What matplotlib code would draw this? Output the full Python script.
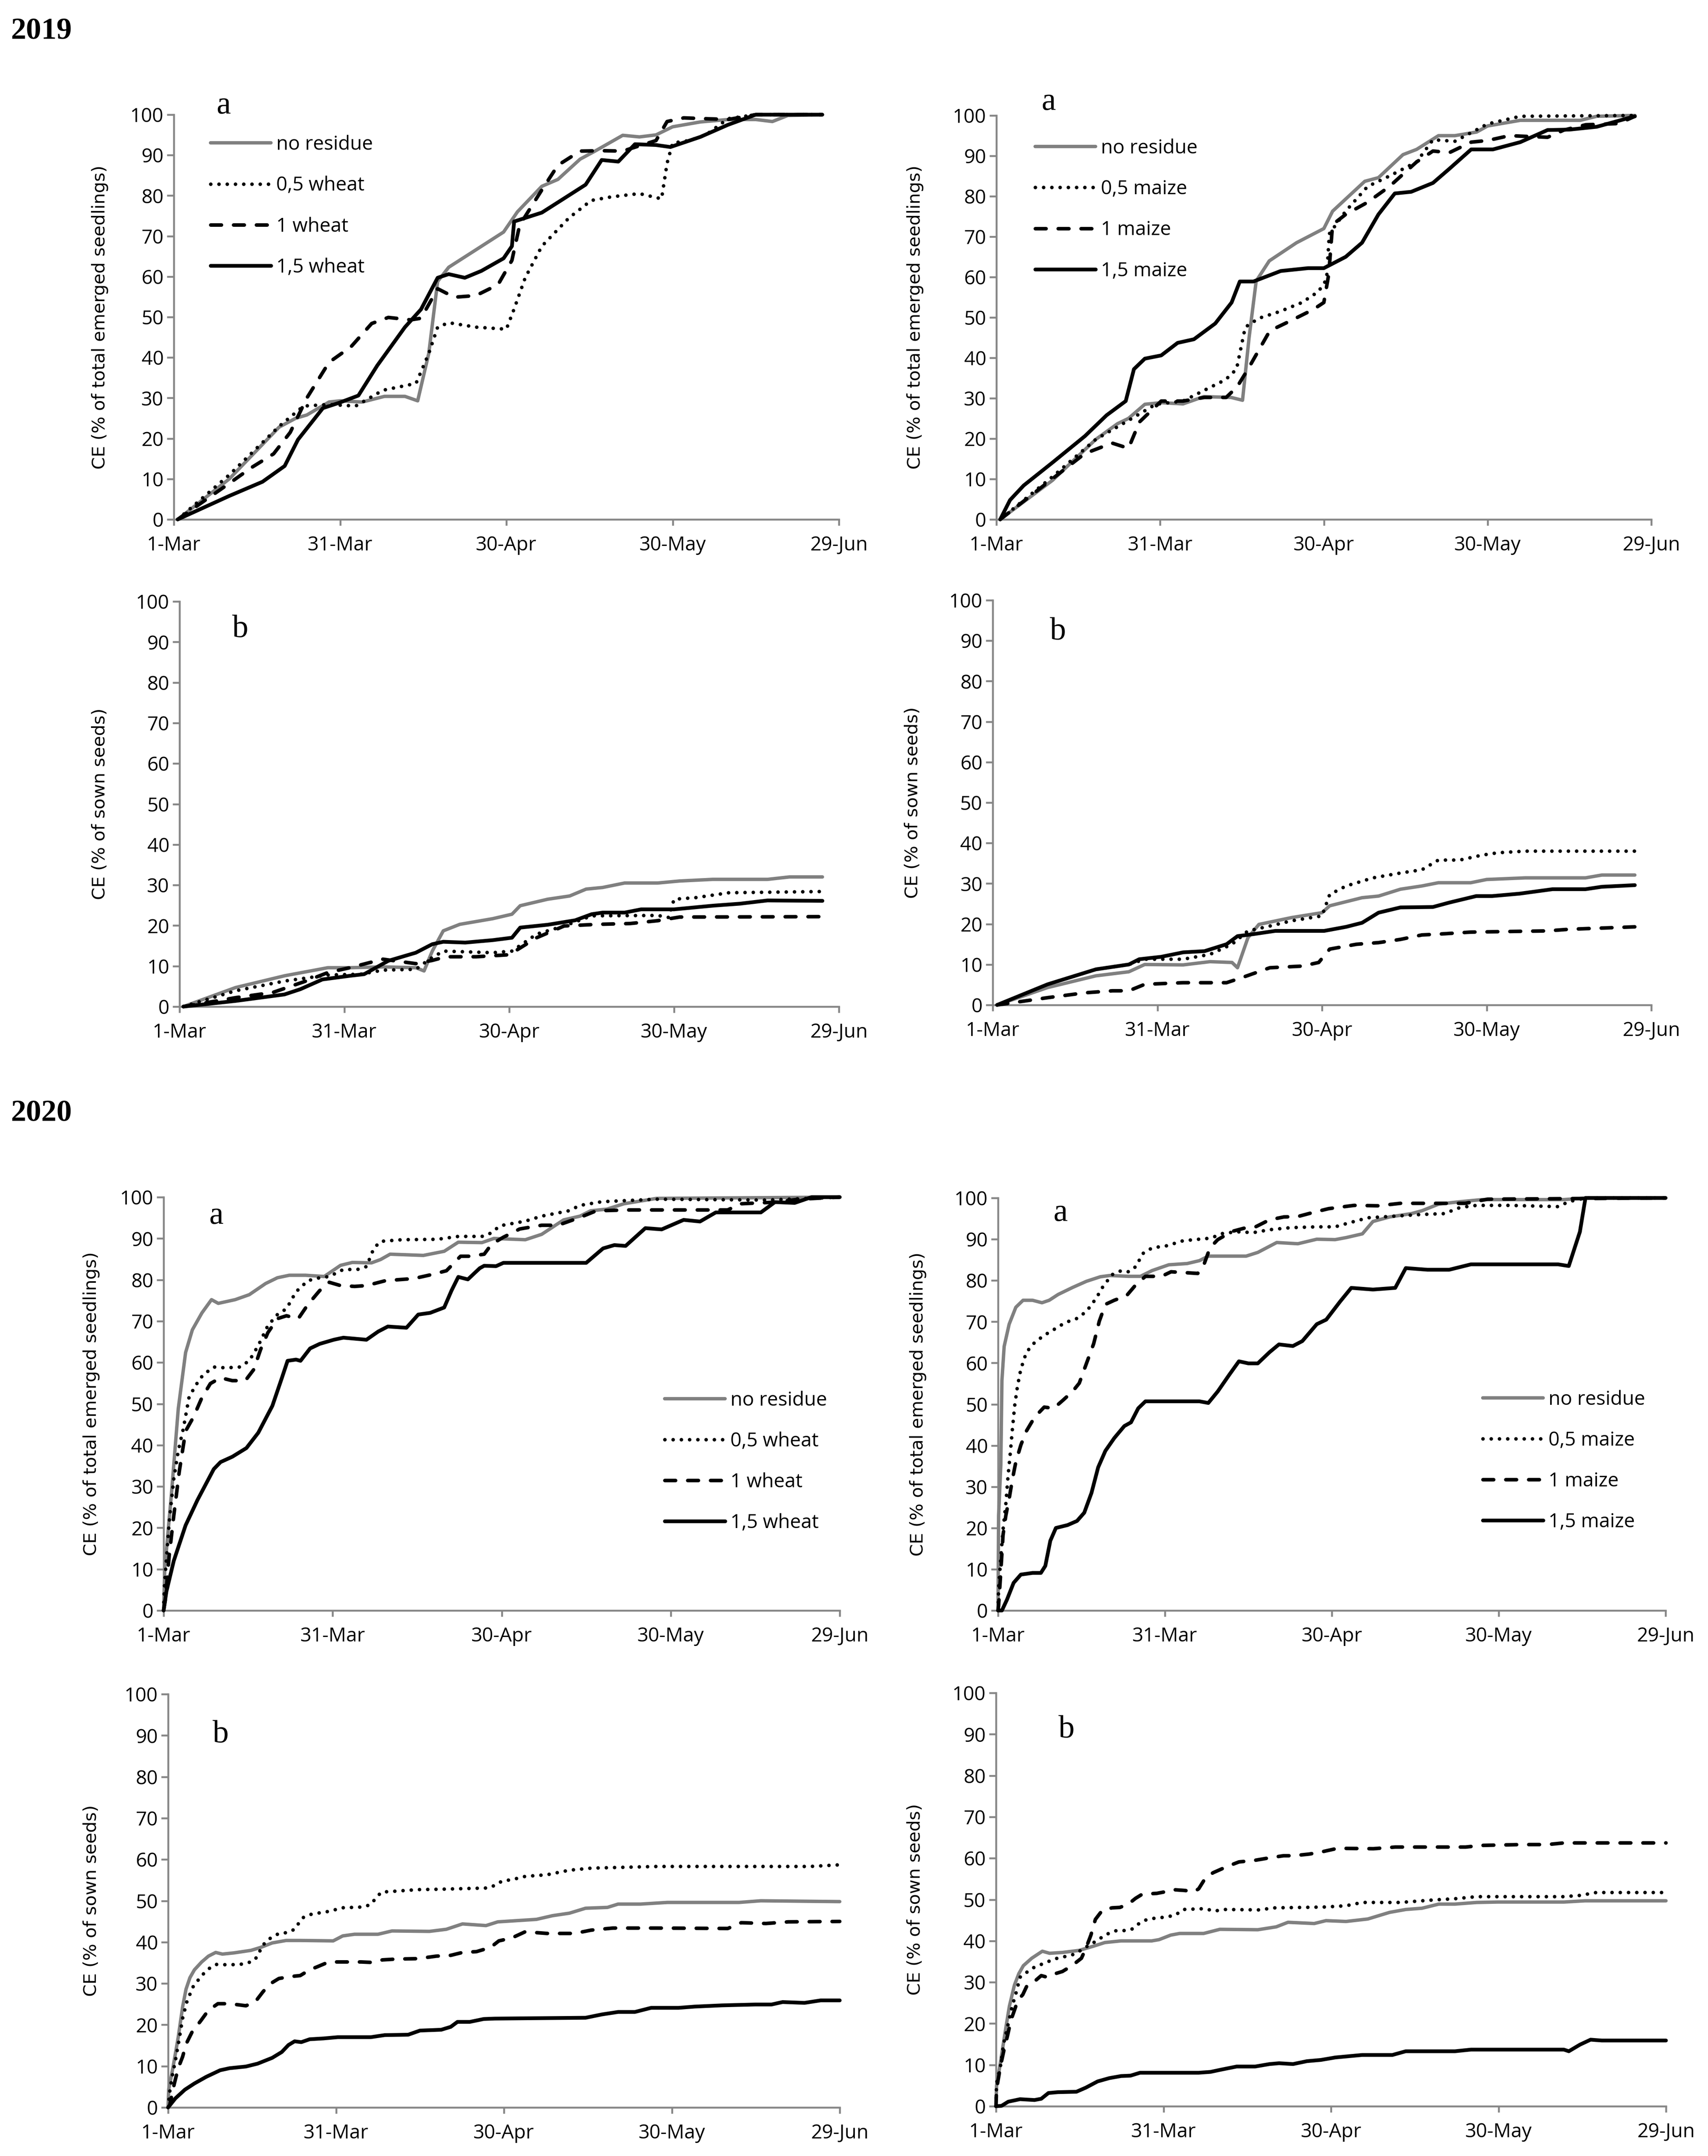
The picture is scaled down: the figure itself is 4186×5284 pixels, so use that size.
import matplotlib
matplotlib.use("Agg")
import matplotlib.pyplot as plt
from matplotlib import font_manager

# ---------------- data (day after 1-Mar, value %) ----------------
tick_days = [0, 30, 60, 90, 120]
tick_labels = ["1-Mar", "31-Mar", "30-Apr", "30-May", "29-Jun"]
y_ticks = [0, 10, 20, 30, 40, 50, 60, 70, 80, 90, 100]

wheat_labels = ["no residue", "0,5 wheat", "1 wheat", "1,5 wheat"]
maize_labels = ["no residue", "0,5 maize", "1 maize", "1,5 maize"]

# 2019 - a - wheat (% of total emerged seedlings)
w19a_none = [(0.7, 0), (10, 10), (19, 22.8), (22, 25), (24, 25.8), (28, 29), (30, 29.3), (34, 29), (38, 30.4),
             (41.7, 30.4), (44, 29.3), (46, 41), (47.6, 58.8), (49.6, 62.3), (54.5, 66.6), (59.5, 71), (62, 76),
             (66.4, 82.3), (69.3, 84), (73.3, 89), (76, 91), (81, 94.9), (84, 94.5), (87, 95), (90, 97), (95, 98.2),
             (100, 98.8), (105, 98.8), (108, 98.3), (110.8, 99.8), (117, 100)]
w19a_half = [(0.7, 0), (10, 11), (19, 23), (23.4, 28), (27.9, 28.4), (32.8, 28), (37.7, 31.9), (43.7, 33.6), (46, 41),
             (47.6, 47.5), (49.6, 48.6), (54.5, 47.5), (60, 47), (61.4, 52), (63.4, 59.7), (66.4, 67.5), (71.3, 74.5),
             (75.3, 78.8), (79, 79.7), (84, 80.5), (88, 79.2), (89, 88), (90, 93), (93, 93.6), (96, 95), (100, 99),
             (105, 100), (117, 100)]
w19a_one = [(0.7, 0), (10, 8.9), (14, 12.8), (18, 16.2), (21, 21.5), (24, 30), (28, 38.8), (32, 42.7), (35.7, 48.4),
            (38.7, 49.9), (42.7, 49.3), (44.6, 49.7), (47.6, 57), (50.6, 54.9), (54.5, 55.3), (58.5, 58), (61, 64),
            (62.4, 72.7), (66.4, 81.4), (69.3, 87.5), (73.3, 91), (77.2, 91.1), (81, 91), (87, 93.6), (89, 98.3),
            (92, 99.2), (100, 98.8), (105, 100), (117, 100)]
w19a_onehalf = [(0.7, 0), (10, 5.8), (16, 9.3), (20, 13.2), (22.4, 19.7), (26.9, 27.5), (29.8, 28.8), (33.3, 30.6),
                (36.7, 38), (41.7, 47.5), (44.6, 51.9), (47.6, 59.7), (49.6, 60.6), (52.5, 59.7), (55.5, 61.4),
                (59.5, 64.5), (61, 67.5), (61.4, 73.6), (66.4, 75.8), (70.3, 79.2), (74.3, 82.7), (77.2, 88.8),
                (80.2, 88.4), (83.2, 92.7), (87, 92.5), (89.6, 92), (95, 94.5), (100, 97.5), (105, 100), (117, 100)]

# 2019 - a - maize
m19a_none = [(0.7, 0), (10.3, 9.7), (18.2, 19.8), (22.2, 23.7), (24.2, 25), (27.2, 28.5), (30.2, 28.9), (34.2, 28.6),
             (38, 30.4), (43, 30.2), (45.1, 29.5), (46.3, 45), (47.6, 59), (50, 64), (55, 68.5), (60, 72),
             (61.6, 76.3), (67.5, 83.7), (70, 84.6), (74.5, 90.3), (77, 91.6), (81, 95), (84, 95), (88, 95.9),
             (90, 97.4), (96, 98.8), (107, 98.8), (110, 99.8), (117, 100)]
m19a_half = [(0.7, 0), (10.3, 10.6), (18.2, 19.8), (24.2, 24.5), (29.2, 28.5), (34.2, 29.3), (38, 31.9), (42, 34.6),
             (44, 37.2), (45.6, 47.6), (48.1, 49.8), (52, 51.5), (56, 53.7), (59, 56.4), (60.5, 59.4), (61, 70.7),
             (64, 76.3), (68, 82.4), (72, 85), (77, 88.5), (80, 94), (84, 93.6), (90, 97.9), (96, 99.8), (117, 100)]
m19a_one = [(0.7, 0), (8.3, 8), (16.2, 16.3), (21.2, 18.9), (24.2, 17.6), (26.2, 24.1), (30.2, 29.3), (34.2, 29.3),
            (38.1, 30.2), (42.1, 30.2), (44.1, 32.8), (46.1, 37.2), (50.1, 46.7), (54.1, 49.3), (58.1, 52),
            (60, 53.7), (60.9, 60.7), (61.6, 73), (64, 75.5), (68, 78.5), (72, 82.4), (77, 88.5), (80, 91.2),
            (83, 90.8), (87, 93.4), (90, 93.8), (94, 95), (101, 94.6), (104, 96.4), (108, 97.7), (114, 98), (117, 99.8)]
m19a_onehalf = [(0.7, 0), (2.5, 4.8), (5, 8.4), (10.3, 14.1), (16.2, 20.6), (20.2, 25.8), (23.7, 29.3), (25.2, 37.2),
                (27.2, 39.8), (30.2, 40.6), (33.2, 43.7), (36.2, 44.6), (40.1, 48.5), (43.1, 53.7), (44.6, 58.9),
                (47.1, 58.9), (52.1, 61.5), (57.1, 62.2), (60, 62.2), (64, 65), (67, 68.5), (70, 75.5), (73, 80.7),
                (76, 81.1), (80, 83.3), (83, 86.8), (87, 91.6), (91, 91.6), (96, 93.4), (101, 96.4), (105, 96.5),
                (110, 97.2), (117, 99.8)]

# 2019 - b - wheat (% of sown seeds)
w19b_none = [(0.7, 0), (10.2, 4.7), (19.1, 7.6), (27, 9.6), (31, 9.6), (37, 9.8), (43, 9.6), (44.5, 8.8), (46, 13.7),
             (48, 18.7), (51, 20.3), (57, 21.7), (60.5, 22.8), (62, 24.9), (67, 26.5), (71, 27.3), (74, 29),
             (77, 29.4), (81, 30.5), (87, 30.5), (91, 31), (97, 31.4), (107, 31.4), (111, 32), (117, 32)]
w19b_half = [(0.7, 0), (10.2, 3.9), (19.1, 6.3), (27, 7.8), (33, 8), (37, 9), (43, 9.2), (45.5, 11.7), (48, 13.7),
             (57, 13.3), (60.5, 13.7), (65, 17.9), (70, 19.9), (75, 22.4), (87, 22.5), (89, 22), (90, 26.5),
             (94, 26.9), (100, 28.1), (117, 28.4)]
w19b_one = [(0.7, 0), (10.2, 2.2), (17, 3.5), (23, 6.3), (27, 8.4), (31, 9.6), (37, 11.7), (43, 10.6), (46, 11.4),
            (48.5, 12.3), (54, 12.3), (60, 12.8), (65, 17), (70, 19.9), (76, 20.3), (82, 20.5), (87, 21.2),
            (91, 22.1), (117, 22.2)]
w19b_onehalf = [(0.7, 0), (10.2, 1.4), (19.1, 3), (22, 4.3), (26, 6.7), (31, 7.6), (33.6, 8), (38, 11.3), (43, 13.3),
                (46, 15.4), (48, 16), (52, 15.8), (57, 16.4), (60.5, 17), (62, 19.5), (67, 20.2), (72, 21.3),
                (75, 22.8), (77, 23.2), (81, 23.2), (84, 24), (90, 24), (97, 24.9), (102, 25.4), (107, 26.2),
                (117, 26.1)]

# 2019 - b - maize
m19b_none = [(0.8, 0), (10, 4.3), (18.8, 7.2), (24.8, 8.2), (27.7, 10), (34.7, 9.9), (39.6, 10.7), (43.6, 10.5),
             (44.6, 9.2), (46.5, 16.6), (48.5, 19.9), (54.5, 21.6), (60, 22.8), (61.4, 24.5), (67.3, 26.5),
             (70.3, 26.9), (74.3, 28.6), (78.2, 29.4), (81.2, 30.2), (87.1, 30.2), (90, 31), (97, 31.4),
             (108, 31.4), (111, 32.1), (117, 32.1)]
m19b_half = [(0.8, 0), (10, 5.1), (18.8, 8.8), (24.8, 10), (27.7, 11.3), (34.7, 11.3), (39.6, 12.5), (43.6, 15),
             (46.5, 18.3), (50.5, 19.5), (54.5, 20.8), (60, 22), (61.4, 27.3), (64.4, 29.4), (69.3, 31.4),
             (74.3, 32.6), (78.2, 33.4), (81.2, 35.8), (85.1, 35.8), (89.1, 37), (92, 37.6), (97, 38), (117, 38)]
m19b_one = [(0.8, 0), (10, 1.8), (16.8, 3), (21.8, 3.5), (24.8, 3.5), (27.7, 5.1), (34.7, 5.5), (42.6, 5.5),
            (45.5, 6.8), (50.5, 9.2), (56.4, 9.6), (59.4, 10.5), (61.4, 13.8), (66.3, 15), (70.3, 15.4),
            (74.3, 16.2), (78.2, 17.3), (81.2, 17.5), (87.1, 18), (101, 18.3), (105, 18.7), (117, 19.3)]
m19b_onehalf = [(0.8, 0), (10, 5.1), (18.8, 8.8), (24.8, 10), (26.7, 11.3), (30.7, 11.9), (34.7, 13), (38.6, 13.3),
                (42.6, 15), (44.6, 17), (47.5, 17.5), (51.5, 18.3), (60.4, 18.3), (64.4, 19.3), (67.3, 20.3),
                (70.3, 22.8), (74.3, 24.1), (80.2, 24.2), (83.2, 25.3), (88.1, 26.9), (91, 26.9), (96, 27.5),
                (102, 28.6), (108, 28.6), (111, 29.2), (117, 29.6)]

# 2020 - a - wheat
w20a_none = [(0, 0), (0.2, 10), (1.4, 28.4), (2.6, 48.8), (3.9, 62.4), (5.1, 67.9), (6.8, 72), (8.5, 75.2),
             (9.7, 74.3), (12.7, 75.2), (15.2, 76.4), (18.1, 79.1), (20.2, 80.5), (22.3, 81.1), (25.2, 81.1),
             (28.5, 80.8), (31.4, 83.5), (33.5, 84.2), (36.9, 84.1), (38.5, 84.9), (40.2, 86.2), (46.1, 85.9),
             (49.8, 86.9), (52.3, 89.1), (56.5, 89), (58.6, 90), (64.2, 89.7), (67.1, 91), (71, 94.5), (73.9, 95.4),
             (75.8, 96.7), (78.7, 97.1), (81.7, 98.4), (87.5, 99.7), (120, 100)]
w20a_half = [(0, 0), (0.1, 5.2), (1, 21.6), (1.8, 31.8), (2.6, 38.6), (3.5, 44), (4.5, 51.5), (5.6, 54.3), (7, 57),
             (8.9, 58.9), (11, 58.7), (13.5, 58.9), (15.2, 60.4), (16.8, 64.1), (18.5, 68.9), (20.2, 71.6),
             (21.8, 73), (23.5, 77.1), (25.6, 79.8), (27.7, 80.5), (29.4, 80.8), (31.9, 82.5), (34.4, 82.5),
             (36, 83.2), (37.3, 87.6), (38.5, 89.3), (42.3, 89.7), (48.6, 89.8), (52.3, 90.5), (56.5, 90.5),
             (57.7, 91), (59.8, 93.1), (64.2, 94.2), (67.1, 95.4), (71.9, 96.7), (73.9, 98), (77.8, 98.9),
             (87.5, 99.5), (106.9, 99.3), (114.7, 99.7), (120, 100)]
w20a_one = [(0, 0), (0.3, 2.5), (1, 13.4), (1.8, 22.9), (2.8, 33.8), (3.9, 43.4), (5.3, 46.8), (6.8, 51.5),
            (8.3, 54.9), (10.1, 56.3), (12.2, 55.6), (14.5, 55.6), (16, 58.3), (17.2, 63.1), (18.5, 67.2),
            (20.2, 70.6), (21.8, 71.3), (23.9, 70.6), (25.6, 74), (27.7, 77.4), (29.4, 79.4), (31.4, 78.6),
            (33.9, 78.4), (36, 78.6), (39.4, 79.8), (44.4, 80.3), (47.7, 81.3), (50.2, 82.2), (52.7, 85.7),
            (54.4, 85.7), (56.9, 86.2), (58.2, 88.6), (60.3, 90.3), (63.2, 92.3), (67.1, 93.2), (70, 93.2),
            (73.9, 95.1), (76.8, 96.7), (82.6, 96.9), (100.1, 96.9), (102.5, 98.4), (108.8, 98.8), (112.7, 99.5),
            (120, 100)]
w20a_onehalf = [(0, 0), (0.5, 4.6), (1.8, 12), (3.9, 20.6), (6, 26.7), (8.9, 34.2), (10.1, 35.9), (12.2, 37.2),
                (14.7, 39.3), (16.8, 43), (19.3, 49.5), (21, 56.3), (22, 60.4), (23.5, 60.7), (24.3, 60.4),
                (26, 63.4), (27.7, 64.5), (30.2, 65.5), (31.9, 66), (36, 65.5), (38.1, 67.5), (39.8, 68.7),
                (43.1, 68.4), (45.2, 71.6), (47.3, 72), (49.8, 73.3), (51.1, 77.4), (52.3, 80.7), (54, 80.1),
                (56.1, 82.8), (56.9, 83.4), (59, 83.3), (60.3, 84.1), (75, 84.1), (78, 87.6), (80, 88.4), (82, 88.2),
                (85.5, 92.5), (88.4, 92.2), (92.3, 94.5), (95.2, 94.1), (98, 96.3), (106, 96.3), (108.5, 98.8),
                (112, 98.6), (115, 100), (120, 100)]

# 2020 - a - maize
m20a_none = [(0, 0), (0.1, 23), (0.5, 35.3), (0.7, 55.8), (1.1, 64), (2, 69.4), (3.2, 73.5), (4.5, 75.2),
             (6.2, 75.2), (7.9, 74.6), (9.2, 75.2), (10.8, 76.6), (13.4, 78.3), (15.9, 79.8), (18.4, 80.9),
             (20.1, 81.2), (23.5, 81), (25.6, 81), (27.7, 82.4), (30.7, 83.8), (34, 84.1), (36.2, 84.8),
             (37.8, 85.9), (44.6, 85.9), (46.7, 86.8), (50.1, 89.2), (53.9, 88.9), (57.3, 90), (60.6, 89.9),
             (62.6, 90.4), (65.5, 91.3), (67.4, 94.3), (70.4, 95.4), (74.3, 96.2), (76.2, 96.9), (79.2, 98.5),
             (83.1, 99.1), (87, 99.6), (101.7, 99.6), (105.6, 100), (120, 100)]
m20a_half = [(0, 0), (0.1, 5.3), (0.5, 12.8), (0.9, 19.6), (1.4, 25.8), (1.8, 32.6), (2.2, 38.1), (2.6, 44.2),
             (3, 49.7), (3.5, 54.4), (4.1, 58.5), (5.1, 62.6), (6.6, 65), (8.3, 66.7), (10.4, 68.4), (12.1, 69.8),
             (14.2, 70.8), (15.9, 72.5), (17.6, 75.6), (18.9, 78.6), (20.5, 81.4), (22.2, 82.4), (23.5, 82.1),
             (24.8, 83.4), (26, 86.5), (27.7, 87.9), (30.3, 88.4), (33.2, 89.6), (35.3, 89.9), (37.8, 90.2),
             (39.1, 90.7), (40.4, 91.4), (42.9, 91.8), (45.9, 91.6), (48.8, 92.3), (52.6, 92.8), (57.3, 93),
             (60.6, 93), (63.2, 94), (66.5, 95.2), (71.4, 95.6), (76.2, 96), (80.2, 96.2), (83.1, 97.7),
             (86, 98.2), (91.9, 98.2), (100.7, 97.9), (102.6, 99.1), (105.6, 100), (120, 100)]
m20a_one = [(0, 0), (0.1, 1.2), (0.5, 9.4), (0.9, 18.3), (1.4, 23), (2, 27.1), (2.6, 31.9), (3.2, 36), (4.1, 40.1),
            (5.1, 43.5), (6.6, 46.9), (8.3, 49.3), (10, 49), (11.7, 51), (13.4, 53.1), (14.6, 55.1), (15.9, 59.9),
            (17.2, 64.7), (18.2, 70.1), (19.3, 74.2), (20.9, 75.2), (23.1, 76.3), (24.8, 79), (26.5, 81),
            (29.4, 81), (31.1, 82.1), (33.6, 81.9), (35.9, 81.7), (37, 83.8), (38.1, 87.9), (39.5, 89.9),
            (42.1, 91.9), (44.6, 92.8), (46.3, 93), (48.8, 94.7), (51.4, 95.4), (53.9, 95.5), (56.4, 96.4),
            (59.4, 97.4), (64, 98.2), (68.4, 98.1), (72.3, 98.7), (84, 98.7), (88, 99.7), (120, 100)]
m20a_onehalf = [(0, 0), (0.7, 0), (1.6, 2.6), (2.8, 6.7), (4.1, 8.7), (6.2, 9.1), (7.7, 9.1), (8.5, 10.8),
                (9.4, 16.9), (10.4, 20), (12.5, 20.7), (14.2, 21.7), (15.5, 23.7), (16.8, 28.5), (18, 34.7),
                (19.3, 38.7), (20.9, 41.8), (22.7, 44.7), (23.9, 45.6), (25.2, 49), (26.5, 50.7), (36.2, 50.7),
                (37.8, 50.3), (39.5, 53.1), (41.6, 57.2), (43.3, 60.4), (45, 59.9), (46.7, 59.9), (48.8, 62.6),
                (50.5, 64.5), (53, 64.1), (54.7, 65.3), (57.3, 69.4), (59, 70.5), (61.5, 74.9), (63.5, 78.2),
                (67.4, 77.8), (71.4, 78.2), (73.3, 83), (77.2, 82.6), (81.1, 82.6), (85, 83.9), (100.7, 83.9),
                (102.6, 83.5), (104.6, 91.8), (105.6, 100), (120, 100)]

# 2020 - b - wheat
w20b_none = [(0, 0), (0.1, 4.3), (0.9, 9.9), (1.8, 16.9), (2.6, 24.4), (3.2, 28.6), (3.9, 31.4), (4.7, 33.3),
             (6, 35.2), (7.2, 36.6), (8.5, 37.5), (9.7, 37.1), (11.8, 37.4), (14.8, 38), (16.5, 38.7), (18.6, 39.8),
             (21.1, 40.4), (23.6, 40.4), (29.5, 40.3), (31.2, 41.5), (33.3, 41.9), (37.5, 41.9), (40, 42.7),
             (46.7, 42.6), (49.7, 43.1), (52.6, 44.4), (56.8, 44), (58.9, 44.9), (65.8, 45.5), (68.7, 46.4),
             (71.7, 47), (74.6, 48.2), (78.5, 48.4), (80.4, 49.2), (84.4, 49.2), (89.2, 49.6), (102, 49.6),
             (105.9, 50), (120, 49.8)]
w20b_half = [(0, 0), (0.3, 3.9), (0.7, 7.4), (1.3, 11.3), (2, 16.7), (2.6, 21.6), (3.4, 25.8), (4.5, 29.3),
             (6, 31.9), (7.2, 33.5), (8.5, 34.6), (11, 34.5), (13.5, 34.7), (15.2, 35.4), (16, 36.6), (16.8, 39.1),
             (18.1, 40.8), (19.8, 42.1), (21.3, 42.3), (22.6, 43.1), (23.4, 44.7), (24.2, 46), (25.7, 46.8),
             (28.2, 47.3), (29.5, 47.7), (31, 48.3), (34.9, 48.5), (36.2, 49.1), (37.1, 50.6), (38.1, 52.1),
             (40.4, 52.3), (44.6, 52.7), (48.8, 52.8), (57.2, 53.1), (58.5, 53.8), (59.7, 54.8), (61.4, 55.1),
             (63.8, 55.9), (67.7, 56.3), (71.7, 57.4), (75.6, 57.9), (81.4, 58.1), (87.3, 58.3), (114.7, 58.3),
             (120, 58.7)]
w20b_one = [(0, 0), (0.3, 0.6), (1.1, 5.7), (1.8, 9.5), (2.6, 12.3), (3.2, 15.3), (4.3, 18.3), (5.8, 20.9),
            (7.2, 23.5), (8.9, 25.1), (11, 25.1), (13.9, 24.6), (15.6, 25.6), (16.9, 27.9), (18.1, 29.8),
            (19.8, 31.2), (22.1, 31.7), (23.6, 31.9), (25.3, 33.3), (26.6, 34), (28.7, 35.2), (30.8, 35.2),
            (34.5, 35.2), (36.2, 35.1), (38.3, 35.7), (40.8, 35.9), (44.6, 36), (47.9, 36.6), (50.5, 36.8),
            (52.6, 37.5), (55.1, 37.7), (57.6, 38.7), (59.1, 40.3), (61.4, 41), (63.8, 42.5), (67.7, 42.1),
            (72.6, 42.1), (75.6, 42.9), (79.5, 43.4), (87.3, 43.4), (100, 43.3), (102.4, 44.7), (106.8, 44.5),
            (110.8, 44.9), (120, 45)]
w20b_onehalf = [(0, 0), (1.3, 2.2), (3, 4.3), (4.7, 5.8), (6.8, 7.4), (9.3, 9), (11, 9.5), (13.9, 9.9), (16, 10.6),
                (18.6, 12), (20.3, 13.4), (21.5, 15.1), (22.6, 16), (23.8, 15.8), (25.3, 16.5), (27.8, 16.7),
                (30.3, 17), (36.2, 17), (38.7, 17.5), (42.9, 17.6), (45, 18.6), (48.8, 18.8), (50.5, 19.5),
                (51.7, 20.7), (53.9, 20.7), (56.4, 21.4), (58.4, 21.5), (74.6, 21.7), (77.5, 22.5), (80.4, 23.1),
                (83.4, 23.1), (86.3, 24.1), (91.2, 24.1), (94.1, 24.4), (99, 24.7), (104.9, 24.9), (107.8, 24.9),
                (109.8, 25.5), (113.7, 25.3), (116.6, 25.9), (120, 25.9)]

# 2020 - b - maize
m20b_none = [(0, 0), (0.1, 5), (0.8, 10.6), (1.6, 17.6), (2.4, 24.2), (3.3, 29.3), (4.1, 32.1), (4.9, 34),
             (6.4, 35.8), (8.3, 37.5), (9.6, 37), (11.9, 37.2), (14.9, 37.7), (17.4, 38.7), (19.5, 39.6),
             (22.4, 40), (27.9, 40), (29.2, 40.3), (31.3, 41.4), (32.9, 41.8), (37.2, 41.8), (40.1, 42.8),
             (46.9, 42.7), (50.2, 43.4), (52.3, 44.5), (57, 44.2), (59.1, 44.9), (62.7, 44.7), (66.6, 45.3),
             (70.5, 46.9), (73.4, 47.6), (76.3, 47.9), (79.3, 48.9), (82.2, 48.9), (86.1, 49.3), (89.9, 49.4),
             (101.7, 49.4), (105.5, 49.7), (120, 49.7)]
m20b_half = [(0, 0), (0.1, 5.5), (0.8, 9.7), (1.4, 15.3), (2.2, 20), (2.9, 24.2), (3.7, 27.9), (4.3, 31.2),
             (5.4, 32.3), (6.7, 33.5), (7.9, 34.2), (9.2, 34.9), (10.4, 35.6), (11.9, 36.1), (13.2, 36.4),
             (14.4, 37), (15.7, 38.2), (17, 39.2), (18, 40), (19.1, 41), (20.3, 41.9), (21.6, 42.5), (23.1, 42.5),
             (24.3, 42.8), (25.4, 44), (26.7, 45), (27.9, 45.4), (29.4, 45.6), (30.9, 45.9), (32.1, 46.2),
             (33.5, 47.6), (37.5, 47.8), (39, 47.2), (41, 47.6), (47, 47.5), (50, 48), (55, 48.1), (59, 48.2),
             (62.7, 48.5), (65.6, 49.3), (72.4, 49.3), (78.3, 49.9), (82.2, 50.2), (86.1, 50.7), (101.7, 50.7),
             (104.6, 51), (107.5, 51.7), (120, 51.7)]
m20b_one = [(0, 0), (0.1, 4.1), (0.8, 9.7), (1.4, 13.4), (2, 16.7), (2.7, 20.9), (3.3, 23.2), (3.9, 25.6),
            (4.8, 27), (5.6, 29.3), (6.9, 30.2), (8.1, 31.6), (9.2, 31.2), (10.2, 31.9), (11.9, 32.6), (13.6, 34),
            (15.3, 35.8), (16.1, 38.2), (17, 41.4), (17.8, 45.2), (19.1, 47.5), (20.8, 48), (22.2, 48.1),
            (23.7, 48.9), (25, 50.3), (26.2, 51.3), (28.8, 51.5), (30.4, 51.9), (31.7, 52.4), (33.8, 52.2),
            (35.5, 51.9), (36.3, 52.6), (37.6, 55.4), (38.9, 56.5), (41.4, 58), (43.5, 59.1), (46.4, 59.5),
            (49, 60.1), (51.5, 60.6), (53.2, 60.6), (56.1, 61), (58.2, 61.5), (61.2, 62.4), (67.6, 62.3),
            (71.5, 62.7), (84.1, 62.7), (87, 63.1), (93.9, 63.3), (98.7, 63.3), (101.7, 63.7), (120, 63.7)]
m20b_onehalf = [(0, 0), (1, 0.1), (2.2, 1.1), (4.3, 1.7), (6.9, 1.5), (8.1, 1.8), (9.4, 3.2), (11.1, 3.4),
                (14.4, 3.5), (16.1, 4.5), (18.2, 6), (20.3, 6.8), (22.4, 7.3), (24.1, 7.4), (25.8, 8.1), (36.3, 8.1),
                (38.4, 8.3), (40.5, 8.9), (43.1, 9.6), (46.4, 9.6), (49, 10.2), (50.7, 10.4), (53.2, 10.2),
                (55.7, 10.9), (58.2, 11.2), (60.8, 11.8), (65.6, 12.4), (71, 12.4), (73.4, 13.3), (82.2, 13.3),
                (85.1, 13.7), (101.7, 13.7), (102.6, 13.3), (104.6, 14.9), (106.5, 16.1), (108.5, 15.9),
                (120, 15.9)]

# ---------------- styling ----------------
W, H, DPI = 4186, 5284, 300
GRAY = "#808080"
AX_GRAY = "#868686"
TICK_FONT = ["Open Sans", "DejaVu Sans"]
LAB_FONT = ["DejaVu Sans"]
SERIF = ["Liberation Serif", "DejaVu Serif"]

styles = [
    dict(color=GRAY, lw=2.0, ls="-", solid_joinstyle="round", solid_capstyle="round"),
    dict(color="black", lw=2.1, ls=(0, (0.01, 2.3)), dash_capstyle="round"),
    dict(color="black", lw=2.1, ls=(0, (3.0, 3.4)), dash_capstyle="round"),
    dict(color="black", lw=2.2, ls="-", solid_joinstyle="round", solid_capstyle="round"),
]

fig = plt.figure(figsize=(W / DPI, H / DPI), dpi=DPI)


def px_axes(x0, y0, x1, y1):
    return fig.add_axes([x0 / W, 1 - y1 / H, (x1 - x0) / W, (y1 - y0) / H])


panels = [
    # rect px, series, labels, ylabel, ylabel offset(px), letter, letter pos, legend anchor
    ((426, 281, 2056, 1273), [w19a_none, w19a_half, w19a_one, w19a_onehalf], wheat_labels,
     "CE (% of total emerged seedlings)", 181, "a", (0.064, 1.003), (0.055, 0.950)),
    ((2442, 283, 4047, 1273), [m19a_none, m19a_half, m19a_one, m19a_onehalf], maize_labels,
     "CE (% of total emerged seedlings)", 199, "a", (0.069, 1.014), (0.059, 0.943)),
    ((440, 1474, 2056, 2467), [w19b_none, w19b_half, w19b_one, w19b_onehalf], None,
     "CE (% of sown seeds)", 195, "b", (0.080, 0.912), None),
    ((2433, 1471, 4047, 2463), [m19b_none, m19b_half, m19b_one, m19b_onehalf], None,
     "CE (% of sown seeds)", 196, "b", (0.087, 0.903), None),
    ((401, 2934, 2058, 3947), [w20a_none, w20a_half, w20a_one, w20a_onehalf], wheat_labels,
     "CE (% of total emerged seedlings)", 177, "a", (0.067, 0.936), (0.741, 0.532)),
    ((2446, 2936, 4082, 3947), [m20a_none, m20a_half, m20a_one, m20a_onehalf], maize_labels,
     "CE (% of total emerged seedlings)", 196, "a", (0.0825, 0.945), (0.726, 0.535)),
    ((412, 4152, 2058, 5165), [w20b_none, w20b_half, w20b_one, w20b_onehalf], None,
     "CE (% of sown seeds)", 188, "b", (0.066, 0.884), None),
    ((2441, 4149, 4083, 5162), [m20b_none, m20b_half, m20b_one, m20b_onehalf], None,
     "CE (% of sown seeds)", 198, "b", (0.093, 0.892), None),
]

for rect, series, labels, ylabel, yoff, letter, lpos, legpos in panels:
    ax = px_axes(*rect)
    lines = []
    for i, s in enumerate(series):
        d, v = zip(*s)
        ln, = ax.plot(d, v, clip_on=False, zorder=3 + i,
                      label=(labels[i] if labels else None), **styles[i])
        lines.append(ln)
    ax.set_xlim(0, 120)
    ax.set_ylim(0, 100)
    ax.set_xticks(tick_days)
    ax.set_xticklabels(tick_labels)
    ax.set_yticks(y_ticks)
    for sp in ("top", "right"):
        ax.spines[sp].set_visible(False)
    for sp in ("left", "bottom"):
        ax.spines[sp].set_color(AX_GRAY)
        ax.spines[sp].set_linewidth(1.1)
    ax.tick_params(axis="both", direction="out", color=AX_GRAY, width=1.1, labelsize=11.5,
                   labelcolor="black")
    ax.tick_params(axis="y", length=4, pad=2)
    ax.tick_params(axis="x", length=3.5, pad=6)
    for t in ax.get_xticklabels() + ax.get_yticklabels():
        t.set_fontfamily(TICK_FONT)
    ax.set_ylabel(ylabel, fontsize=10.45, family=LAB_FONT, va="center")
    ax.yaxis.set_label_coords(-yoff / (rect[2] - rect[0]), 0.5)
    ax.text(lpos[0], lpos[1], letter, transform=ax.transAxes, ha="left", va="baseline",
            fontsize=19, family=SERIF)
    if labels is not None:
        ax.legend(handles=lines, loc="upper left", bbox_to_anchor=legpos, frameon=False,
                  borderpad=0, borderaxespad=0, handlelength=3.1, handletextpad=0.27,
                  labelspacing=1.1, prop=font_manager.FontProperties(family=TICK_FONT, size=11.5))

fig.text(27 / W, 1 - 95 / H, "2019", ha="left", va="baseline", fontsize=18, fontweight="bold", family=SERIF)
fig.text(27 / W, 1 - 2747 / H, "2020", ha="left", va="baseline", fontsize=18, fontweight="bold", family=SERIF)

fig.savefig("out.png", dpi=DPI, facecolor="white")
